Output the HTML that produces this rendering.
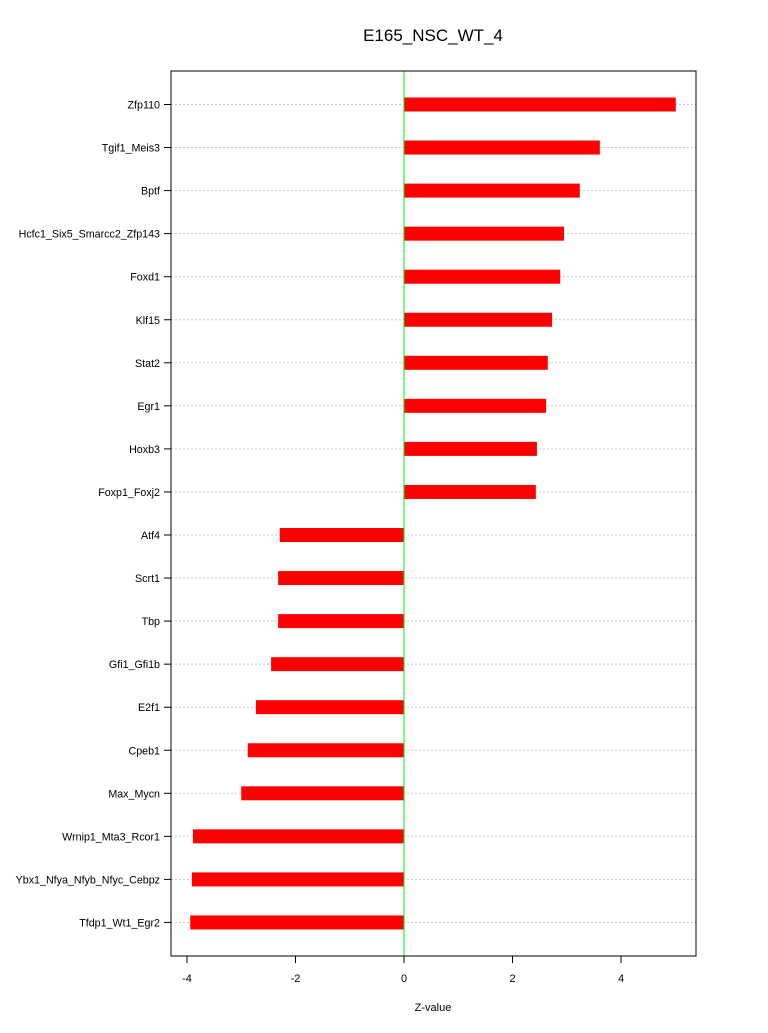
<!DOCTYPE html>
<html><head><meta charset="utf-8"><style>
body{margin:0;background:#fff;}
svg text{font-family:"Liberation Sans",sans-serif;}
</style></head><body>
<svg id="chart" width="768" height="1028" xmlns="http://www.w3.org/2000/svg">
<text x="433" y="41" font-size="17" text-anchor="middle">E165_NSC_WT_4</text>
<text x="433" y="1011" font-size="11" text-anchor="middle">Z-value</text>
<g id="grid"></g><g id="bars"></g><g id="ylabels"></g><g id="xaxis"></g>
<rect x="171" y="71" width="525" height="885" fill="none" stroke="#000" stroke-width="1"/>
</svg>
<script>
const categories=["Zfp110","Tgif1_Meis3","Bptf","Hcfc1_Six5_Smarcc2_Zfp143","Foxd1","Klf15","Stat2","Egr1","Hoxb3","Foxp1_Foxj2","Atf4","Scrt1","Tbp","Gfi1_Gfi1b","E2f1","Cpeb1","Max_Mycn","Wrnip1_Mta3_Rcor1","Ybx1_Nfya_Nfyb_Nfyc_Cebpz","Tfdp1_Wt1_Egr2"];
const zValues=[5.01,3.61,3.24,2.95,2.88,2.73,2.65,2.62,2.45,2.43,-2.29,-2.32,-2.32,-2.45,-2.73,-2.88,-3.0,-3.89,-3.91,-3.94];
const xTicks=[-4,-2,0,2,4];
const ns="http://www.w3.org/2000/svg";
const x0=404, xs=54.25;
function xScale(v){return x0+v*xs;}
function yScale(i){return 104.5+i*43.05;}
function mk(tag,attrs,parent){const e=document.createElementNS(ns,tag);for(const k in attrs)e.setAttribute(k,attrs[k]);document.getElementById(parent).appendChild(e);return e;}
categories.forEach((c,i)=>{
  const y=yScale(i);
  const g=mk("line",{x1:171,x2:696,y1:y,y2:y,stroke:"#c8c8c8","stroke-dasharray":"2,2","stroke-width":1},"grid");
  
  
  const v=zValues[i];
  const b=mk("rect",{x:Math.min(xScale(v),x0),y:y-7,width:Math.abs(xScale(v)-x0),height:14,fill:"#ff0000"},"bars");
  
  
  const tk=mk("line",{x1:164,x2:171,y1:y,y2:y,stroke:"#000"},"ylabels");
  
  
  const t=mk("text",{x:160,y:y+4,"font-size":10.7,"text-anchor":"end"},"ylabels");
  t.textContent=c;
  
  
});
const zl=mk("line",{x1:x0,x2:x0,y1:71,y2:956,stroke:"#00ee00","stroke-width":1},"bars");


const ax=mk("line",{x1:xScale(-4),x2:xScale(4),y1:956,y2:956,stroke:"#000"},"xaxis");


xTicks.forEach(v=>{
  const tk=mk("line",{x1:xScale(v),x2:xScale(v),y1:956,y2:963,stroke:"#000"},"xaxis");
  
  
  const tl=mk("text",{x:xScale(v),y:982,"font-size":11,"text-anchor":"middle"},"xaxis");
  tl.textContent=v;
  
  
});
</script>
</body></html>
